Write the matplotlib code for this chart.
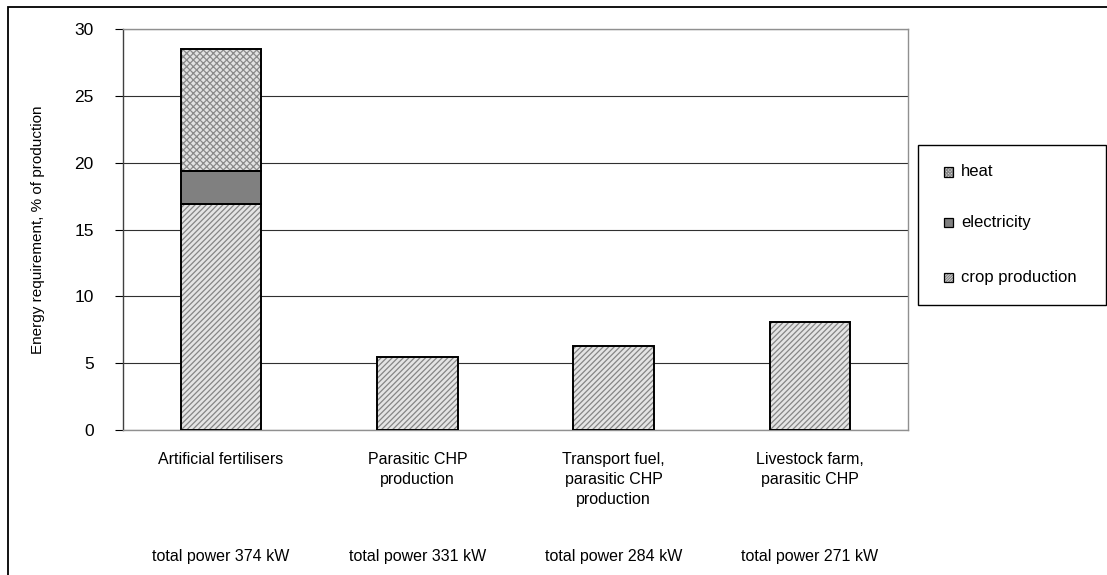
import matplotlib
matplotlib.use("Agg")
import matplotlib.pyplot as plt
from matplotlib.patches import Rectangle
import numpy as np

plt.rcParams['font.family'] = ['Liberation Sans', 'DejaVu Sans']
plt.rcParams['hatch.linewidth'] = 0.9

categories = ["Artificial fertilisers", "Parasitic CHP\nproduction",
              "Transport fuel,\nparasitic CHP\nproduction", "Livestock farm,\nparasitic CHP"]
total_power = ["total power 374 kW", "total power 331 kW", "total power 284 kW", "total power 271 kW"]
crop_production = [16.9, 5.45, 6.3, 8.1]
electricity = [2.45, 0, 0, 0]
heat = [9.15, 0, 0, 0]
series_names = ["heat", "electricity", "crop production"]
y_ticks = [0, 5, 10, 15, 20, 25, 30]

W, H = 1107, 575
fig = plt.figure(figsize=(W / 100, H / 100), dpi=100)
ax = fig.add_axes([123 / W, 1 - 430 / H, (908 - 123) / W, (430 - 29) / H])

x = np.arange(len(categories))
bw = 0.41
crop = np.array(crop_production)
elec = np.array(electricity)
ht = np.array(heat)

styles = {
    "crop production": dict(facecolor="#e4e4e4", hatch="//////", hatch_color="#858585"),
    "electricity": dict(facecolor="#808080", hatch=None, hatch_color="#808080"),
    "heat": dict(facecolor="#e2e2e2", hatch="xxxxx", hatch_color="#8a8a8a"),
}

def draw(vals, bottom, name):
    st = styles[name]
    mask = vals > 0
    if not mask.any():
        return
    ax.bar(x[mask], vals[mask], bw, bottom=bottom[mask], color=st["facecolor"],
           hatch=st["hatch"], edgecolor=st["hatch_color"], linewidth=0, zorder=3)
    ax.bar(x[mask], vals[mask], bw, bottom=bottom[mask], fill=False,
           edgecolor="black", linewidth=1.4, zorder=4)

draw(crop, np.zeros_like(crop), "crop production")
draw(elec, crop, "electricity")
draw(ht, crop + elec, "heat")

ax.set_xlim(-0.5, len(categories) - 0.5)
ax.set_ylim(0, 30)
ax.set_yticks(y_ticks)
ax.set_yticklabels([str(t) for t in y_ticks], fontsize=12.5)
ax.tick_params(axis='y', direction='out', length=6, width=0.8, pad=15)
ax.set_xticks([])
ax.yaxis.grid(True, color="#303030", linewidth=0.8, zorder=0)
ax.set_axisbelow(True)
for s in ["top", "right", "bottom"]:
    ax.spines[s].set_color("#909090")
    ax.spines[s].set_linewidth(1.0)
ax.spines["left"].set_color("#404040")
ax.spines["left"].set_linewidth(1.0)
ax.set_ylabel("Energy requirement, % of production", fontsize=11, labelpad=21)

for i, (c, tp) in enumerate(zip(categories, total_power)):
    ax.annotate(c, xy=(x[i], 0), xycoords=("data", "axes fraction"),
                xytext=(0, -15.5), textcoords="offset points", ha="center", va="top",
                fontsize=11.5, linespacing=1.45)
    ax.annotate(tp, xy=(x[i], 0), xycoords=("data", "axes fraction"),
                xytext=(0, -86), textcoords="offset points", ha="center", va="top",
                fontsize=11.5)

# outer frame
fig.patches.append(Rectangle((8 / W, -0.1), 1.2, 1 - 7 / H + 0.1, transform=fig.transFigure,
                             fill=False, edgecolor="black", linewidth=1.3))

# legend
fig.patches.append(Rectangle((918 / W, 1 - 305 / H), (1106 - 918) / W, 160 / H,
                             transform=fig.transFigure, fill=False, edgecolor="black", linewidth=1.0))
leg_y = [172, 223, 277]
for name, yy in zip(series_names, leg_y):
    st = styles[name]
    fig.patches.append(Rectangle((944 / W, 1 - (yy + 4.5) / H), 9 / W, 9 / H, transform=fig.transFigure,
                                 facecolor=st["facecolor"], hatch=(st["hatch"] * 2 if st["hatch"] else None),
                                 edgecolor=st["hatch_color"], linewidth=0))
    fig.patches.append(Rectangle((944 / W, 1 - (yy + 4.5) / H), 9 / W, 9 / H, transform=fig.transFigure,
                                 fill=False, edgecolor="black", linewidth=0.9))
    fig.text(961 / W, 1 - yy / H, name, fontsize=12, va="center", ha="left")

fig.savefig("out.png", dpi=100)
